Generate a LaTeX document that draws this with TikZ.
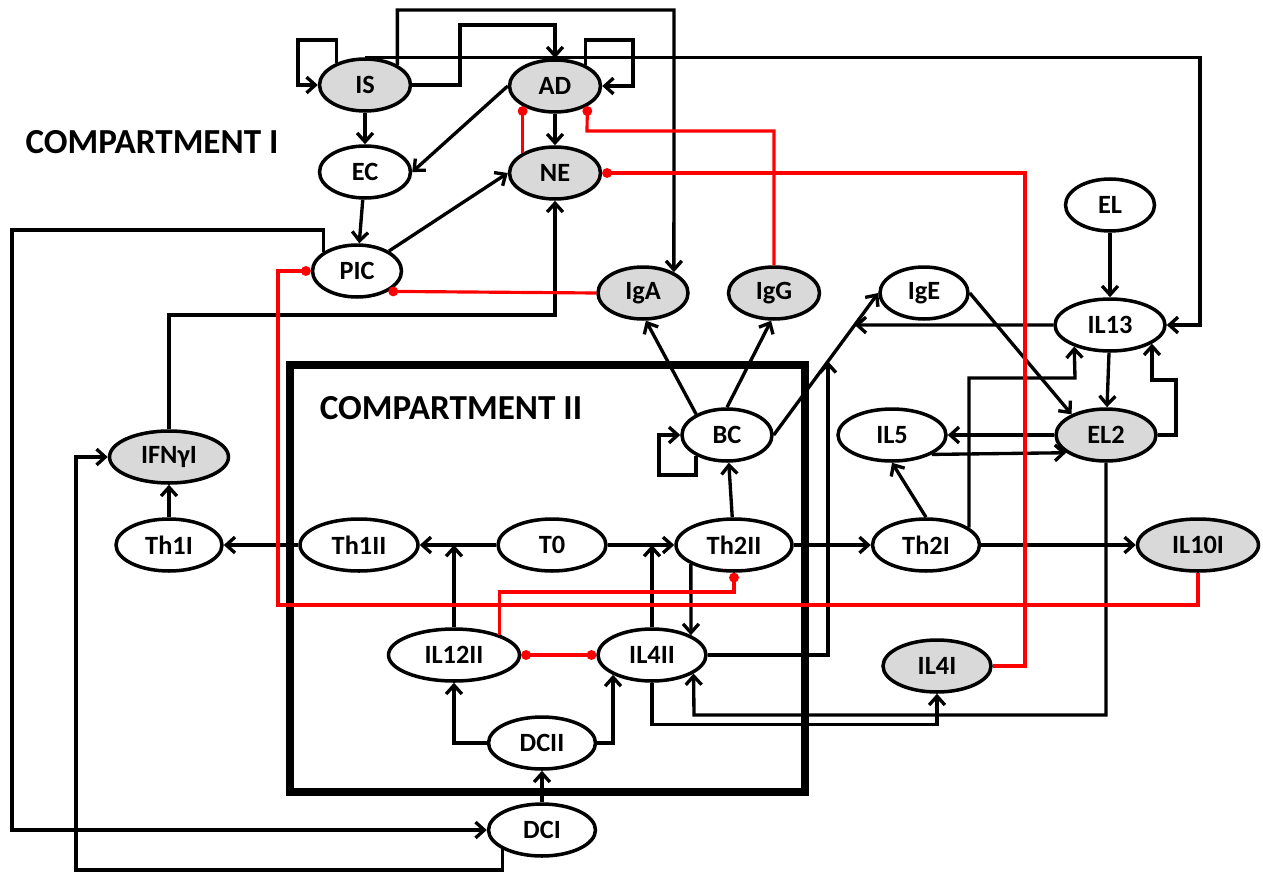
\documentclass[tikz,border=0pt]{standalone}
\usepackage{fontspec}
\setmainfont{Carlito}
\usepackage{tikz}
\usetikzlibrary{arrows.meta,shapes.geometric,calc}
\definecolor{CellGray}{HTML}{D9D9D9}
\definecolor{InhRed}{HTML}{FF0000}

\begin{document}
\begin{tikzpicture}[x=0.02cm, y=-0.02cm,
    every node/.style={font=\fontsize{15}{18}\selectfont\bfseries},
    title/.style={font=\fontsize{20}{24}\selectfont\bfseries},
    cell/.style={draw, ellipse, fill=white, line width=2pt, minimum height=1.04cm, inner sep=1pt},
    cellg/.style={cell, fill=CellGray},
    ar/.style={-{Straight Barb[length=5pt,width=9pt]}, line width=1.9pt},
    inh/.style={-{Circle[length=5.5pt]}, draw=InhRed, line width=1.8pt},
    inhb/.style={{Circle[length=5.5pt]}-{Circle[length=5.5pt]}, draw=InhRed, line width=1.8pt}]
  \useasboundingbox (0,0) rectangle (1263,875);
  \draw[line width=4.2pt] (290,365) rectangle (805,792);
  \node[title] (compI) at (152,142) {COMPARTMENT I};
  \node[title] (compII) at (451,408) {COMPARTMENT II};

  \node[cellg, minimum width=1.82cm] (is) at (365,85) {IS};
  \node[cellg, minimum width=1.82cm] (ad) at (555,86) {AD};
  \node[cell, minimum width=1.82cm] (ec) at (365,172) {EC};
  \node[cellg, minimum width=1.82cm] (ne) at (555,173) {NE};
  \node[cell, minimum width=1.78cm] (pic) at (357,271) {PIC};
  \node[cellg, minimum width=1.8cm] (iga) at (643,293) {IgA};
  \node[cellg, minimum width=1.82cm] (igg) at (774,293) {IgG};
  \node[cell, minimum width=1.76cm] (ige) at (924,293) {IgE};
  \node[cell, minimum width=1.78cm] (el) at (1110,205) {EL};
  \node[cell, minimum width=2.2cm] (il13) at (1110,325) {IL13};
  \node[cellg, minimum width=2cm] (el2) at (1106,435) {EL2};
  \node[cell, minimum width=2.16cm] (il5) at (892,435) {IL5};
  \node[cell, minimum width=1.8cm] (bc) at (727,435) {BC};
  \node[cell, minimum width=2.32cm] (th2ii) at (734,545) {Th2II};
  \node[cell, minimum width=2.14cm] (th2i) at (926,545) {Th2I};
  \node[cellg, minimum width=2.42cm] (il10i) at (1198,545) {IL10I};
  \node[cell, minimum width=2.12cm] (th1i) at (169,545) {Th1I};
  \node[cell, minimum width=2.36cm] (th1ii) at (359,545) {Th1II};
  \node[cell, minimum width=2.16cm] (t0) at (552,545) {T0};
  \node[cellg, minimum width=2.38cm] (ifng) at (169,457) {IFNγI};
  \node[cell, minimum width=2.62cm] (il12ii) at (454,655) {IL12II};
  \node[cell, minimum width=2.16cm] (il4ii) at (652,655) {IL4II};
  \node[cellg, minimum width=2.16cm] (il4i) at (937,666) {IL4I};
  \node[cell, minimum width=2.14cm] (dcii) at (542,743) {DCII};
  \node[cell, minimum width=2.14cm] (dci) at (542,830) {DCI};

  \coordinate (t1) at (454,545);
  \coordinate (t2) at (652,545);
  \coordinate (x13) at (intersection of il13.west--il13.east and bc.east--ige.west);
  \coordinate (x4) at (intersection of 828,300--828,500 and bc.east--ige.west);

  \draw[ar] (is.142) |- (298,40) |- (is.west);
  \draw[ar] (ad.35) |- (633,40) |- (ad.east);
  \draw[ar] (is.east) -| (460,25) -| (ad.north);
  \draw[ar] (is.32) |- (674,10) -- (iga.34);
  \draw[ar] (is.north) -| (1200,325) -- (il13.east);
  \draw[ar] (is) -- (ec);
  \draw[ar] (ad.west) -- (ec.east);
  \draw[ar] (ad) -- (ne);
  \draw[ar] (ec) -- (pic);
  \draw[ar] (pic.32) -- (ne.west);
  \draw[ar] (ifng.north) |- (555,315) -- (ne.south);
  \draw[ar] (th1i) -- (ifng);
  \draw[ar] (th1ii) -- (th1i);
  \draw[ar] (t0) -- (th1ii);
  \draw[ar] (t0) -- (th2ii);
  \draw[ar] (il12ii) -- (t1);
  \draw[ar] (il4ii) -- (t2);
  \draw[ar] (th2ii.204) -- (il4ii.27);
  \draw[ar] (th2ii) -- (bc);
  \draw[ar] (bc.146) -- (iga.-84);
  \draw[ar] (bc.north) -- (igg.-96);
  \draw[ar] (bc.214) |- (659,475) |- (bc.west);
  \draw[ar] (bc.east) -- (ige.west);
  \draw[ar] (il13.west) -- (x13);
  \draw[ar] (il4ii.east) -| (x4);
  \draw[ar] (th2ii) -- (th2i);
  \draw[ar] (th2i.north) -- (il5.south);
  \draw[ar] (th2i) -- (il10i);
  \draw[ar] (th2i.22) |- (1075,378) -- (il13.211);
  \draw[ar] (el) -- (il13);
  \draw[ar] (il13) -- (el2);
  \draw[ar] (el2.east) -| (1176,380) -| (il13.-24);
  \draw[ar] (ige.east) -- (el2.149);
  \draw[ar] (el2.west) -- (il5.east);
  \draw[ar] (il5.-26) -- (el2.204);
  \draw[ar] (el2.south) |- (694,715) -- (il4ii.-24);
  \draw[ar] (il4ii.south) -- ++(0,42) -| (il4i.south);
  \draw[ar] (dcii.west) -| (il12ii.south);
  \draw[ar] (dcii.east) -| (il4ii.207);
  \draw[ar] (dci) -- (dcii);
  \draw[ar] (pic.150) |- (12,230) |- (dci.west);
  \draw[ar] (dci.206) |- (76,870) |- (ifng.west);

  \draw[inh] (ne.148) -- (ad.212);
  \draw[inh] (igg.north) |- (587,131) -- (ad.-32);
  \draw[inh] (il4i.east) -| (1025,173) -- (ne.east);
  \draw[inh] (iga.west) -- (pic.-33);
  \draw[inh] (il10i.south) |- (278,605) |- (pic.west);
  \draw[inh] (il12ii.24) |- (734,592) -- (th2ii.south);
  \draw[inhb] (il12ii.east) -- (il4ii.west);
\end{tikzpicture}
\end{document}
